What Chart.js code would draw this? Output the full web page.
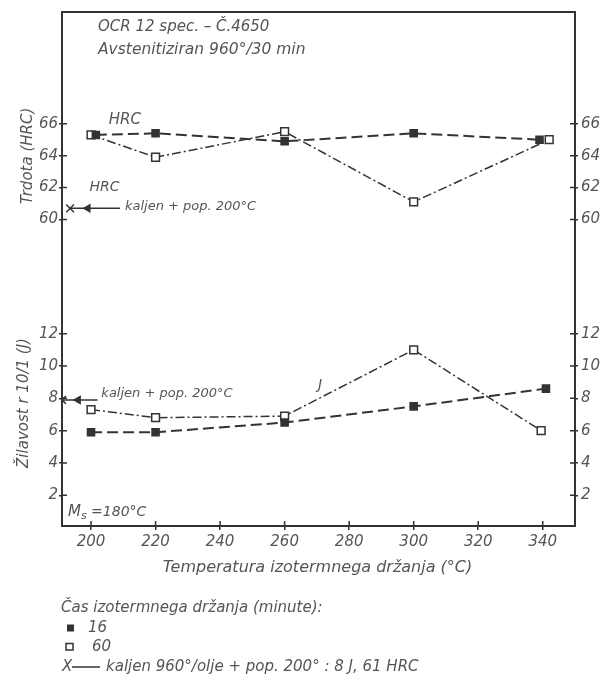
<!DOCTYPE html>
<html>
<head>
<meta charset="utf-8">
<script src="https://cdn.jsdelivr.net/npm/chart.js@4/dist/chart.umd.min.js"></script>
<style>
  html, body { margin: 0; background: #fff; }
  canvas { display: block; }
</style>
</head>
<body>
<canvas id="chart" width="614" height="685"></canvas>
<script>
const tempTicks = [200, 220, 240, 260, 280, 300, 320, 340];
const hrcTicks = [60, 62, 64, 66];
const jTicks = [2, 4, 6, 8, 10, 12];

// 16 min hold (filled squares)
const hrc16Temps = [201.5, 220, 260, 300, 339];
const hrc16 = [65.3, 65.4, 64.9, 65.4, 65.0];
const j16Temps = [200, 220, 260, 300, 341];
const j16 = [5.9, 5.9, 6.5, 7.5, 8.6];

// 60 min hold (open squares)
const hrc60Temps = [200, 220, 260, 300, 342];
const hrc60 = [65.3, 63.9, 65.5, 61.1, 65.0];
const j60Temps = [200, 220, 260, 300, 339.5];
const j60 = [7.3, 6.8, 6.9, 11.0, 6.0];

// kaljen + pop. 200 °C  (X mark, arrow, end of the short line)
const refHrcTemps = [193.5, 199, 209];
const refHrc = 60.7;
const refJTemps = [191, 196, 202];
const refJ = 7.9;

const ink = '#333';
const textInk = '#555';
const family = '"DejaVu Sans", "Liberation Sans", sans-serif';
const tickFont = { family: family, size: 15, style: 'italic' };

const pts = (xs, ys) => xs.map((t, i) => ({ x: t, y: Array.isArray(ys) ? ys[i] : ys }));
const onlyTicks = list => scale => { scale.ticks = list.map(v => ({ value: v })); };

const series = (label, xs, ys, axis, filled) => ({
  label: label,
  data: pts(xs, ys),
  yAxisID: axis,
  borderColor: ink,
  borderWidth: filled ? 2 : 1.5,
  borderDash: filled ? [11, 5] : [9, 3, 2, 3],
  pointStyle: 'rect',
  pointRadius: filled ? 5 : 5.5,
  pointBorderWidth: 1.5,
  pointBorderColor: ink,
  pointBackgroundColor: filled ? ink : '#fff',
  fill: false,
  tension: 0
});

const reference = (xs, y, axis) => ({
  label: 'ref',
  data: pts(xs, y),
  yAxisID: axis,
  borderColor: ink,
  borderWidth: 1.5,
  pointStyle: ['crossRot', 'triangle', 'circle'],
  pointRotation: [0, -90, 0],
  pointRadius: [5.5, 4, 0],
  pointBorderWidth: 1.5,
  pointBorderColor: ink,
  pointBackgroundColor: ink
});

const notes = {
  id: 'notes',
  beforeDatasetsDraw(chart) {
    const { ctx, chartArea: a, scales } = chart;
    ctx.save();
    ctx.strokeStyle = ink;
    ctx.lineWidth = 2;
    ctx.strokeRect(a.left, a.top, a.width, a.height);
    // inner half of the tick crosses
    ctx.lineWidth = 1.5;
    ctx.beginPath();
    ['yH', 'yJ'].forEach(id => {
      scales[id].ticks.forEach(t => {
        const y = scales[id].getPixelForValue(t.value);
        ctx.moveTo(a.left, y); ctx.lineTo(a.left + 5, y);
        ctx.moveTo(a.right - 5, y); ctx.lineTo(a.right, y);
      });
    });
    scales.x.ticks.forEach(t => {
      const x = scales.x.getPixelForValue(t.value);
      ctx.moveTo(x, a.bottom); ctx.lineTo(x, a.bottom - 5);
    });
    ctx.stroke();
    ctx.restore();
  },
  afterDraw(chart) {
    const { ctx, chartArea: a, scales: { x, yH, yJ } } = chart;
    const text = (s, px, py, size, align) => {
      ctx.font = 'italic ' + (size || 15) + 'px ' + family;
      ctx.textAlign = align || 'left';
      ctx.fillText(s, px, py);
      return ctx.measureText(s).width;
    };
    ctx.save();
    ctx.fillStyle = textInk;
    ctx.textBaseline = 'middle';

    text('OCR 12 spec. – Č.4650', a.left + 36, a.top + 15);
    text('Avstenitiziran 960°/30 min', a.left + 36, a.top + 38, 15.5);

    text('HRC', x.getPixelForValue(205.5), yH.getPixelForValue(66.2));
    text('HRC', x.getPixelForValue(199.5), yH.getPixelForValue(62.0), 14);
    text('kaljen + pop. 200°C', x.getPixelForValue(210.5), yH.getPixelForValue(60.8), 13);
    text('kaljen + pop. 200°C', x.getPixelForValue(203.2), yJ.getPixelForValue(8.3), 13);
    text('J', x.getPixelForValue(271), yJ.getPixelForValue(8.8), 14, 'center');

    const mx = a.left + 6, my = a.bottom - 14;
    const mw = text('M', mx, my);
    const sw = text('s', mx + mw, my + 4, 11);
    text(' =180°C', mx + mw + sw, my, 14);

    ctx.save();
    ctx.translate(28, 156);
    ctx.rotate(-Math.PI / 2);
    text('Trdota (HRC)', 0, 0, 15, 'center');
    ctx.restore();
    ctx.save();
    ctx.translate(24, 403);
    ctx.rotate(-Math.PI / 2);
    text('Žilavost r 10/1 (J)', 0, 0, 15, 'center');
    ctx.restore();

    text('Temperatura izotermnega držanja (°C)', (a.left + a.right) / 2 - 1, 568, 16, 'center');

    // key below the plot
    text('Čas izotermnega držanja (minute):', a.left - 1, 608);
    ctx.fillStyle = ink;
    ctx.fillRect(a.left + 5, 624.5, 7, 7);
    ctx.strokeStyle = ink;
    ctx.lineWidth = 1.5;
    ctx.strokeRect(a.left + 4, 643.5, 7, 6.5);
    ctx.beginPath();
    ctx.moveTo(a.left + 10, 667);
    ctx.lineTo(a.left + 38, 667);
    ctx.stroke();
    ctx.fillStyle = textInk;
    text('16', a.left + 26, 628);
    text('60', a.left + 30, 647);
    text('X', a.left, 667);
    text('kaljen 960°/olje + pop. 200° : 8 J, 61 HRC', a.left + 44, 667);
    ctx.restore();
  }
};

// the hardness panel sits on top of the toughness panel, each half of the frame
const yAxis = (pos, weight, min, max, ticks, width) => ({
  type: 'linear',
  position: pos,
  stack: pos,
  weight: weight,
  min: min,
  max: max,
  afterBuildTicks: onlyTicks(ticks),
  afterFit: s => { s.width = width; },
  grid: { drawOnChartArea: false, color: ink, lineWidth: 1.5, tickLength: 3 },
  border: { display: false },
  ticks: { font: tickFont, color: textInk, padding: pos === 'left' ? 1 : 3 }
});

new Chart(document.getElementById('chart'), {
  type: 'line',
  data: {
    datasets: [
      series('16', hrc16Temps, hrc16, 'yH', true),
      series('60', hrc60Temps, hrc60, 'yH', false),
      series('16', j16Temps, j16, 'yJ', true),
      series('60', j60Temps, j60, 'yJ', false),
      reference(refHrcTemps, refHrc, 'yH'),
      reference(refJTemps, refJ, 'yJ')
    ]
  },
  options: {
    responsive: false,
    animation: false,
    layout: { padding: { top: 12 } },
    plugins: { legend: { display: false }, tooltip: { enabled: false } },
    scales: {
      x: {
        type: 'linear',
        position: 'bottom',
        min: 191,
        max: 350,
        afterBuildTicks: onlyTicks(tempTicks),
        afterFit: s => { s.height = 159; },
        grid: { drawOnChartArea: false, color: ink, lineWidth: 1.5, tickLength: 4 },
        border: { display: false },
        ticks: { font: tickFont, color: textInk, padding: 3, maxRotation: 0 }
      },
      yH: yAxis('left', 1, 56.9, 73, hrcTicks, 62),
      yJ: yAxis('left', 0, 0.1, 16, jTicks, 62),
      yH2: yAxis('right', 0, 56.9, 73, hrcTicks, 39),
      yJ2: yAxis('right', 1, 0.1, 16, jTicks, 39)
    }
  },
  plugins: [notes]
});
</script>
</body>
</html>
